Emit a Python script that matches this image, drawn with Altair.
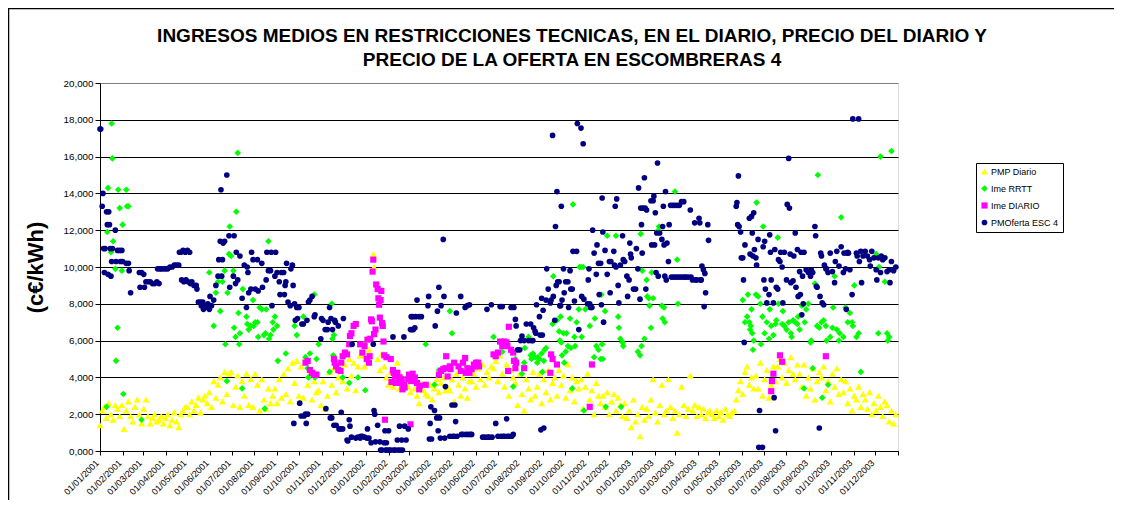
import altair as alt
from datetime import datetime, timedelta, timezone

N = None
E = [N] * 10  # a run of 10 empty slots (3-day slots)

# Each series: 37 rows x 10 slots; slot k = day 3*k from 01/01/2001.
# A tuple in a slot = values on consecutive days (3k, 3k+1, 3k+2).
PMP_DIARIO = [
    [1.4, 2.2, 2.4, 1.8, 2.6, 2.0, 1.7, 2.5, 2.3, 1.9],
    [2.5, 1.2, 2.2, 2.7, 1.9, 1.6, 2.4, 2.8, 2.0, 1.5],
    [2.3, 2.8, 1.9, 1.5, 1.8, 2.0, 1.6, 1.7, 1.9, 1.5],
    [1.8, 2.0, 1.4, 1.7, 2.1, 1.6, 1.3, 2.0, 2.2, 2.4],
    [2.4, 2.0, 2.7, 2.2, 2.5, 2.9, 2.1, 2.8, 3.0, 2.6],
    [3.2, 2.4, 3.8, 2.9, 3.6, 4.0, 2.7, 4.3, 3.1, 4.2],
    [4.3, 2.5, 3.5, 4.1, 2.4, 3.8, 3.0, 4.2, 2.5, 3.9],
    [2.4, 4.2, 3.6, 2.2, 3.9, 2.8, 2.3, 3.4, 2.6, 3.0],
    [3.4, 2.6, 3.9, 2.9, 4.2, 3.1, 4.5, 2.7, 4.8, 3.7],
    [4.9, 3.0, 4.6, 2.9, 5.1, 3.6, 4.2, 2.8, 3.8, 3.2],
    [3.3, 2.5, 3.8, 2.3, 3.0, 4.3, 3.6, 4.5, 3.2, 4.0],
    [4.4, 3.8, 4.7, 3.4, 5.0, 4.1, 4.8, 3.3, 4.6, 5.2],
    [5.2, 4.6, 6.1, 5.5, 7.2, (10.7, 10.0), 6.5, 5.0, 4.4, 5.3],
    [4.6, 4.0, 3.6, 4.3, 3.5, 3.9, 4.8, 3.4, 4.1, 3.7],
    [3.8, 3.5, 3.2, 3.9, 3.4, 3.0, 2.6, 3.7, 3.3, 3.1],
    [3.0, 3.6, 2.8, 3.4, 3.9, 3.2, 3.7, 4.0, 3.3, 3.5],
    [3.3, 3.9, 2.7, 4.2, 3.6, 3.0, 4.0, 3.4, 2.9, 3.8],
    [3.8, 4.2, 3.5, 4.5, 3.9, 4.7, 3.6, 4.3, 4.0, 4.6],
    [4.5, 4.9, 3.8, 5.2, 4.2, 3.5, 4.7, 3.0, 4.4, 4.0],
    [3.7, 2.5, 4.2, 3.1, 2.2, 3.9, 3.4, 2.8, 4.3, 3.0],
    [3.5, 4.2, 2.6, 3.9, 3.2, 4.4, 2.8, 3.7, 4.0, 3.0],
    [4.4, 3.6, 4.1, 2.9, 4.7, 3.3, 4.0, 2.7, 3.8, 3.4],
    [3.9, 2.3, 3.5, 4.2, 2.8, 3.3, 2.0, 3.7, 3.0, 2.6],
    [3.0, 2.4, 3.2, 2.0, 2.7, 3.1, 2.2, 2.9, 2.5, 1.9],
    [2.6, 1.8, 2.2, 1.3, 2.8, 1.6, 2.0, 0.8, 2.4, 1.7],
    [2.3, 1.9, 2.8, 3.9, 2.1, 1.6, 2.5, 3.6, 2.0, 2.2],
    [3.9, 2.4, 1.8, 2.2, 1.0, 2.0, 3.5, 2.5, 1.9, 2.3],
    [4.1, 2.2, 2.5, 1.9, 2.4, 2.0, 2.3, 1.8, 2.1, 2.2],
    [2.0, 1.8, 2.2, 1.9, 2.1, 1.7, 2.3, 2.0, 1.9, 2.1],
    [2.2, 2.8, 3.3, 3.8, 3.1, 4.3, 4.6, 3.6, 4.0, 3.4],
    [4.1, 3.4, 4.8, 3.0, 3.9, 4.4, 2.9, 3.6, 4.6, 3.8],
    [4.6, 5.0, 4.0, 4.8, 3.7, 4.4, 5.1, 4.2, 3.9, 4.7],
    [4.2, 3.5, 4.7, 3.0, 4.0, 3.4, 4.5, 2.8, 3.8, 4.3],
    [4.0, 4.6, 3.3, 3.8, 2.7, 4.2, 3.5, 4.5, 3.1, 3.9],
    [3.2, 3.8, 2.6, 3.4, 2.2, 3.0, 2.8, 3.5, 2.4, 3.1],
    [2.8, 2.3, 3.2, 2.0, 2.6, 2.2, 3.0, 2.4, 1.9, 2.7],
    [2.5, 1.6, 2.2, 1.5, 2.0],
]

IME_RRTT = [
    [N, N, N, (2.4, 11.9, 14.3), N, (10.8, 17.8, 15.9), 11.4, (9.9, 4.9), (6.7, 14.2), 13.2],
    [(9.8, 12.3, 3.1), N, (14.2, 13.3), 13.3, N, N, N, N, N, 1.7],
    E, E, E,
    [9.7, N, 6.8, 8.6, 9.2, 7.6, 9.2, (9.8, 5.8), (3.8, 8.6), (10.7, 12.2)],
    [10.6, (9.8, 6.7), (6.2, 13.0), (16.2, 7.5, 5.8), 6.4, (3.4, 8.8), N, (7.3, 6.9), 6.6, 6.8],
    [(8.2, 6.8), 7.0, (7.0, 6.2), 7.8, 7.7, (6.3, 2.3, 6.4), 7.7, (11.4, 6.1), 6.3, (7.0, 6.6)],
    [7.3, (6.8, 4.9), N, N, N, 5.3, N, N, N, 6.8],
    [6.3, N, N, 7.3, 5.1, (4.5, 4.0), 5.3, N, (8.5, 4.0), 5.0],
    [5.8, N, N, N, N, 4.3, (8.0, 6.1, 5.2), 6.3, N, N],
    [N, 4.0, N, N, 3.7, N, N, N, 4.0, N],
    [N, (5.8, 3.3), N, N, N, N, N, N, N, N],
    E,
    [N, N, N, N, N, N, N, N, N, 5.8],
    [N, N, N, 3.6, N, 4.4, N, N, N, N],
    [7.6, 6.4, N, N, N, N, N, N, N, N],
    [N, N, 4.8, N, N, N, N, N, N, N],
    [6.2, N, N, N, 5.4, N, N, N, N, 3.5],
    [5.0, N, N, 4.2, (4.8, 5.6), N, 6.2, (5.2, 5.0), 5.3, 5.1],
    [(4.8, 5.1), 5.0, (5.3, 4.3), (4.9, 5.5), 5.6, N, N, (6.9, 9.5), N, 7.1],
    [(6.5, 6.0, 7.3), (5.9, 5.2), (6.4, 4.8), (5.4, 6.4), 5.7, (7.2, 5.6), (3.4, 13.4), (6.2, 5.7), 7.0, (7.7, 10.0)],
    [(10.0, 6.2), (10.0, 2.2), 7.7, N, 6.8, 4.7, (5.1, 7.2), 5.7, 5.5, (5.0, 8.5, 5.8)],
    [5.0, (7.6, 2.4), 11.7, N, N, N, 11.7, (7.3, 6.7), (6.1, 2.4), (5.9, 5.7)],
    [N, N, N, N, N, N, 5.4, (5.2, 11.8, 5.7), 9.8, 6.1],
    [(9.3, 8.4), (8.3, 7.9), (6.7, 9.7), 8.3, N, (11.9, 12.0, 12.2), N, (7.9, 7.2), (7.8, 7.0), N],
    [N, N, N, 14.1, (10.4, 8.0), N, N, N, N, N],
    E, E,
    [N, N, N, N, 8.2, 7.0, (7.3, 8.5), (7.0, 6.6, 6.8), (7.7, 6.4, 5.5), 6.0],
    [(8.5, 13.5), 8.4, (8.0, 5.8), (7.3, 12.2), 6.4, 7.0, (6.1, 7.7), 6.8, 6.3, (6.9, 7.1)],
    [(11.6, 8.0), N, (6.9, 7.6), 6.8, 6.6, 7.0, (6.4, 6.2), 7.1, 7.0, (6.9, 7.3)],
    [6.6, 7.9, (3.4, 7.0), 7.7, 8.0, (5.9, 6.0), 4.5, 9.1, (6.8, 15.0), 6.7],
    [(7.0, 2.9), 7.1, (6.8, 6.0), 3.6, 6.2, (6.7, 7.8), 9.5, 6.6, (6.0, 6.4), 12.7],
    [6.2, 7.8, 7.0, 7.5, (7.0, 6.8), 9.0, 6.2, 6.4, 4.3, N],
    [N, N, N, N, N, 10.7, (6.4, 10.0), 16.0, N, 9.2],
    [(6.4, 6.0), 6.2, 16.3, N, N],
]

IME_DIARIO = [
    E, E, E, E, E, E, E, E, E,
    [N, N, N, N, 4.8, 4.9, 4.4, 4.25, 4.15, 4.15],
    [N, N, N, N, N, N, N, (5.0, 4.8), 4.6, 4.4],
    [(4.35, 4.8), 5.15, 5.35, 5.25, (5.8, 6.25), 6.4, 6.8, 6.9, N, 5.8],
    [5.35, 5.7, (5.0, 6.05), (4.8, 5.15, 6.1), (7.15, 7.05, 9.75), (10.4, 6.35), (6.6, 9.05), (8.8, 8.3, 7.95), (7.25, 8.2, 8.7), (6.95, 6.8, 5.95)],
    [(5.2, 1.7), 5.1, N, (5.0, 3.75), (4.4, 4.25), (4.05, 3.7), 4.25, (4.0, 3.7), (3.9, 3.35), (3.6, 3.45)],
    [N, (3.9, 4.15), (1.45, 3.8), 4.2, 4.0, 3.7, (3.35, 3.55), N, N, 3.6],
    [N, N, N, N, N, 4.15, 4.35, 4.45, (4.5, 5.15), 4.05],
    [(4.6, 4.45), N, 4.8, N, 4.6, 4.35, 4.8, (5.05, 4.25), 4.5, 4.25],
    [4.45, (4.7, 4.6), 4.8, (4.8, 4.6), N, N, N, N, N, N],
    [5.25, 5.15, 5.35, 5.95, 5.7, 5.95, (5.9, 5.7, 4.35), 6.75, 5.5, (5.35, 4.9)],
    [(4.5, 4.8), N, N, N, 4.5, N, N, N, N, N],
    [N, N, N, N, N, N, (4.25, 5.25), 5.0, N, 4.7],
    E,
    [N, N, N, N, 2.4, 4.7, N, N, N, N],
    E, E, E, E, E, E, E,
    [N, N, N, N, N, N, N, (3.25, 3.8), 4.2, N],
    [N, 5.2, 4.85, N, N, N, N, N, N, N],
    E,
    [N, N, 5.15, N, N, N, N, N, N, N],
    E, E,
    [N, N, N, N, N],
]

PMOFERTA_ESC4 = [
    [(17.5, 17.5), (13.3, 14.0, 11.0), (9.7, 11.0), (13.0, 12.3, 9.6), (13.0, 12.3, 11.0), (9.5, 10.3, 11.0), N, (12.0, 10.3), 10.9, (10.9, 10.3)],
    [(10.9, 10.3), N, 10.2, (10.2, 9.8), 8.6, N, N, N, (9.7, 8.9), 9.7],
    [(9.6, 8.9), 9.2, 9.2, 9.2, 9.1, 9.1, (9.2, 9.9), (9.1, 9.9), 9.9, 9.9],
    [9.9, 9.9, 10.0, 10.0, 10.1, 10.1, (10.1, 10.8), (10.8, 9.3), (10.9, 9.2), (10.8, 9.3)],
    [(10.9, 9.2), (10.8, 9.1), 9.2, 9.0, (9.0, 8.8), 8.1, (8.1, 7.9), (8.1, 7.7), 7.8, (7.9, 8.0)],
    [(7.7, 8.4), 7.9, 8.2, 9.0, (9.5, 10.4), (11.4, 14.2, 9.5), (10.4, 11.3), 11.4, 15.0, (11.7, 8.9)],
    [N, (9.5, 11.7), (9.1, 10.8), 9.3, 10.6, 8.3, 10.1, (7.8, 10.0, 9.7), 8.6, (8.8, 10.8)],
    [10.4, 8.8, (10.4, 8.7), N, (10.2, 8.9), N, (9.3, 10.8), 9.8, (9.8, 10.8, 7.9), N],
    [(9.5, 10.8), 9.7, (9.2, 8.5), 9.7, (9.7, 8.5, 9.0), (9.2, 10.2), 8.1, (7.9, 9.9), (10.1, 9.0, 1.5), (8.0, 7.1)],
    [(7.8, 7.2), (7.8, 2.6), (1.9, 6.9), (6.9, 1.9), (2.0, 1.5, 7.1), (2.0, 8.1), 8.2, 8.4, (7.3, 7.4), N],
    [N, (6.1, 7.2), 7.1, (6.6, 2.3), (6.6, 7.0), (7.8, 1.8, 7.2), (1.8, 6.6), (1.4, 7.1, 7.0), 1.4, (6.8, 1.2)],
    [(1.2, 2.1), (1.2, 7.2), N, (0.6, 0.55), (1.7, 1.35), (0.75, 5.8), N, 0.7, 0.75, (0.7, 0.8)],
    [0.8, 0.75, (0.7, 1.2), 0.7, 0.45, (5.8, 2.2, 2.0), 0.5, 1.4, (0.5, 0.05), 0.05],
    [(0.45, 1.1, 0.05), (0.45, 0.05), (1.1, 0.05), 0.05, (6.2, 0.05), 0.05, (0.6, 0.05), (1.35, 0.05), (0.6, 0.05), (6.2, 1.35)],
    [0.6, 1.2, (6.6, 7.3, 6.6), (7.3, 6.6), (6.7, 7.3), 8.2, 7.3, 7.3, N, N],
    [(7.9, 8.4, 0.65), (1.5, 2.4, 0.65), N, (2.2, 6.8), (1.8, 7.6, 1.1), (8.9, 1.8, 0.7), 7.9, (11.5, 8.4, 0.7), 3.5, N],
    [0.8, (2.5, 0.8), (0.8, 2.5, 1.6), (7.5, 0.8), N, (8.4, 0.9), 0.9, (7.8, 0.9), (7.9, 0.9), (7.95, 0.9)],
    [0.9, N, N, N, N, 0.75, 0.75, (7.7, 0.75), 0.75, (7.95, 0.75)],
    [N, 1.5, 0.8, (7.85, 0.8), (7.85, 0.8), 0.8, (1.75, 0.8), 0.8, (7.8, 0.8), (0.9, 7.8)],
    [(7.15, 6.8), 5.5, (5.5, 6.0), 6.25, 6.0, 6.9, 6.0, (6.9, 6.0), (6.0, 6.7), (6.5, 6.4, 7.95)],
    [N, (7.3, 6.3, 1.15), (8.3, 6.3, 7.65), 1.25, (8.2, 9.9), 8.8, (8.05, 8.2), (17.15, 8.4), (7.1, 12.2, 9.0), (14.1, 9.2)],
    [(9.2, 7.9, 7.9), (13.3, 8.2), (9.9, 8.6), 9.2, (9.2, 7.8), (9.8, 8.8), (8.8, 10.85), 8.15, (10.85, 17.8), 6.6],
    [(17.55, 8.4), (16.7, 8.25), N, (8.0, 9.3, 9.9), (8.0, 7.8), (7.8, 12.0), 10.75, (9.6, 11.2), (10.2, 8.5), (10.2, 7.95, 13.75)],
    [(11.9, 7.0), 10.9, 9.6, (10.3, 8.6, 10.3), N, (10.85, 10.1, 13.3), (10.0, 13.7), (9.0, 8.05), 10.1, (11.7, 10.4)],
    [10.3, (9.5, 8.4), (9.3, 11.3, 10.7), 10.5, 8.8, (8.8, 11.0), (9.9, 14.3), (8.25, 13.2, 12.3), (10.75, 13.2), (14.85, 13.2, 8.8)],
    [13.1, N, (13.6, 11.2), (13.6, 13.85, 11.2), (12.95, 9.7, 11.85), (15.65, 9.5), 11.85, (11.5, 12.2, 13.3), (11.2, 9.5, 14.1), (9.3, 11.3)],
    [(10.3, 12.3), (13.35, 9.45), (13.35, 9.45), (13.35, 9.45), (13.35, 9.45), (13.35, 9.45), (13.55, 9.45), (13.55, 9.45), 9.45, 9.45],
    [(13.1, 9.45), 9.3, (12.4, 9.3), 9.3, (12.65, 12.4, 9.3), (9.3, 10.05), (9.85, 7.85, 9.65), 8.6, (12.3, 11.45), N],
    E,
    [N, (13.3, 13.5, 12.3), (14.95, 12.2), (11.9, 10.5), (10.5, 9.3, 5.9), 11.2, N, (12.65, 10.7), (12.75, 11.85, 10.6), (12.95, 10.95)],
    [(10.5, 10.1), (11.5, 0.2, 2.2), N, (0.2, 11.1, 9.3), (11.4, 8.8), 8.05, (8.5, 11.75, 10.8), 9.3, (8.05, 2.9, 10.95), (1.1, 8.9)],
    [(8.8, 10.4), (10.3, 10.8), (10.0, 8.05), 10.8, (9.3, 13.4), (15.9, 13.2, 10.7), 9.15, (9.25, 10.6), (11.85, 8.9), (10.95, 8.4)],
    [(9.75, 8.5, 10.8), (7.4, 9.5, 8.0), 10.8, 9.85, 9.7, (9.5, 9.85), 9.7, (12.2, 11.7, 8.95), 8.9, (1.25, 8.4, 10.75)],
    [(10.6, 8.05), (7.95, 10.1), (9.9, 9.9), 9.7, 10.75, 9.75, (9.15, 10.3), 10.85, 10.05, 11.1],
    [(9.7, 10.75), (9.9, 7.7, 10.75), (10.8, 10.75), 9.85, (8.5, 18.05), N, (10.75, 10.6), (18.05, 10.3), (10.85, 9.15), 10.6],
    [10.85, 10.6, (10.4, 10.05), 10.85, 10.5, (9.85, 9.3), 10.5, (9.7, 10.6), 10.4, 10.5],
    [9.75, (9.85, 9.15), 10.3, 9.8, 10.0],
]

SERIES = ["PMP Diario", "Ime RRTT", "Ime DIARIO", "PMOferta ESC 4"]
COLORS = ["#FFFF00", "#00FF00", "#FF00FF", "#000080"]
SHAPES = ["triangle-up", "diamond", "square", "circle"]
SIZES = [50, 32, 30, 30]

TITLE_1 = "INGRESOS MEDIOS EN RESTRICCIONES TECNICAS, EN EL DIARIO, PRECIO DEL DIARIO Y"
TITLE_2 = "PRECIO DE LA OFERTA EN ESCOMBRERAS 4"
Y_TITLE = "(c€/kWh)"

START = datetime(2001, 1, 1, tzinfo=timezone.utc)


def ms(d):
    return int(d.timestamp() * 1000)


def expand(rows, name):
    out = []
    for r, row in enumerate(rows):
        for i, v in enumerate(row):
            if v is None:
                continue
            vals = v if isinstance(v, tuple) else (v,)
            for j, val in enumerate(vals):
                d = START + timedelta(days=3 * (10 * r + i) + j)
                out.append({"fecha": ms(d), "valor": val, "serie": name})
    return out


records = []
for rows, name in zip([PMP_DIARIO, IME_RRTT, IME_DIARIO, PMOFERTA_ESC4], SERIES):
    records += expand(rows, name)

month_ticks = [ms(datetime(2001 + m // 12, m % 12 + 1, 1, tzinfo=timezone.utc)) for m in range(37)]
end_ms = month_ticks[-1]

W, H = 798, 368
FONT = "Liberation Sans"

x_axis = alt.Axis(
    values=month_ticks,
    labelExpr=f"datum.value >= {end_ms} ? '' : utcFormat(datum.value, '%d/%m/%Y')",
    labelAngle=-45, labelAlign="right", labelBaseline="middle",
    labelFont=FONT, labelFontSize=9, labelColor="black",
    labelPadding=6, labelOffset=-3, labelOverlap=False, labelBound=False, labelFlush=False,
    tickSize=4, tickColor="black", domainColor="black", grid=False, title=None,
)

y_axis = alt.Axis(
    values=list(range(0, 21, 2)),
    labelExpr="replace(format(datum.value, '.3f'), '.', ',')",
    labelFont=FONT, labelFontSize=9.8, labelColor="black", labelPadding=2,
    tickSize=5, tickColor="black", domainColor="black",
    grid=True, gridColor={"condition": {"test": "datum.value == 20", "value": "#808080"}, "value": "black"},
    gridWidth=1,
    title=Y_TITLE, titleFont=FONT, titleFontSize=22, titleFontWeight="bold",
    titleColor="black", titleX=-65, titleY=H / 2, titleAngle=-90, titleAlign="center",
    titleBaseline="middle",
)

points = alt.Chart(alt.Data(values=records)).mark_point(
    filled=True, opacity=1, strokeWidth=0
).encode(
    x=alt.X("fecha:T", scale=alt.Scale(type="utc", domain=[month_ticks[0], end_ms], nice=False), axis=x_axis),
    y=alt.Y("valor:Q", scale=alt.Scale(domain=[0, 20], nice=False), axis=y_axis),
    color=alt.Color("serie:N", scale=alt.Scale(domain=SERIES, range=COLORS),
                    legend=alt.Legend(title=None, orient="none", legendX=876, legendY=80,
                                      strokeColor="black", fillColor="white", padding=4,
                                      rowPadding=7, labelFont=FONT, labelFontSize=9,
                                      labelColor="black", symbolSize=25, labelOffset=2,
                                      symbolStrokeWidth=0)),
    shape=alt.Shape("serie:N", scale=alt.Scale(domain=SERIES, range=SHAPES)),
    size=alt.Size("serie:N", scale=alt.Scale(domain=SERIES, range=SIZES), legend=None),
)

frame = alt.Chart(alt.Data(values=[{}])).mark_rect(
    filled=False, stroke="black", strokeWidth=1.5, clip=False
).encode(
    x=alt.value(-91.5), x2=alt.value(1200), y=alt.value(-74.5), y2=alt.value(700)
)


def title_line(text, y):
    return alt.Chart(alt.Data(values=[{"t": text}])).mark_text(
        font=FONT, fontSize=19, fontWeight="bold", color="black",
        align="center", baseline="alphabetic", clip=False
    ).encode(text="t:N", x=alt.value(472), y=alt.value(y))


chart = alt.layer(frame, points, title_line(TITLE_1, -41.3), title_line(TITLE_2, -17.3)).properties(
    width=W, height=H,
    autosize=alt.AutoSizeParams(type="none"),
    padding={"left": 92, "top": 75, "right": 216, "bottom": 49},
).configure_view(
    fill="#C0C0C0", stroke="#808080", strokeWidth=1
).configure(background="white")

chart.save("out.html", embed_options={"renderer": "svg", "actions": False})
